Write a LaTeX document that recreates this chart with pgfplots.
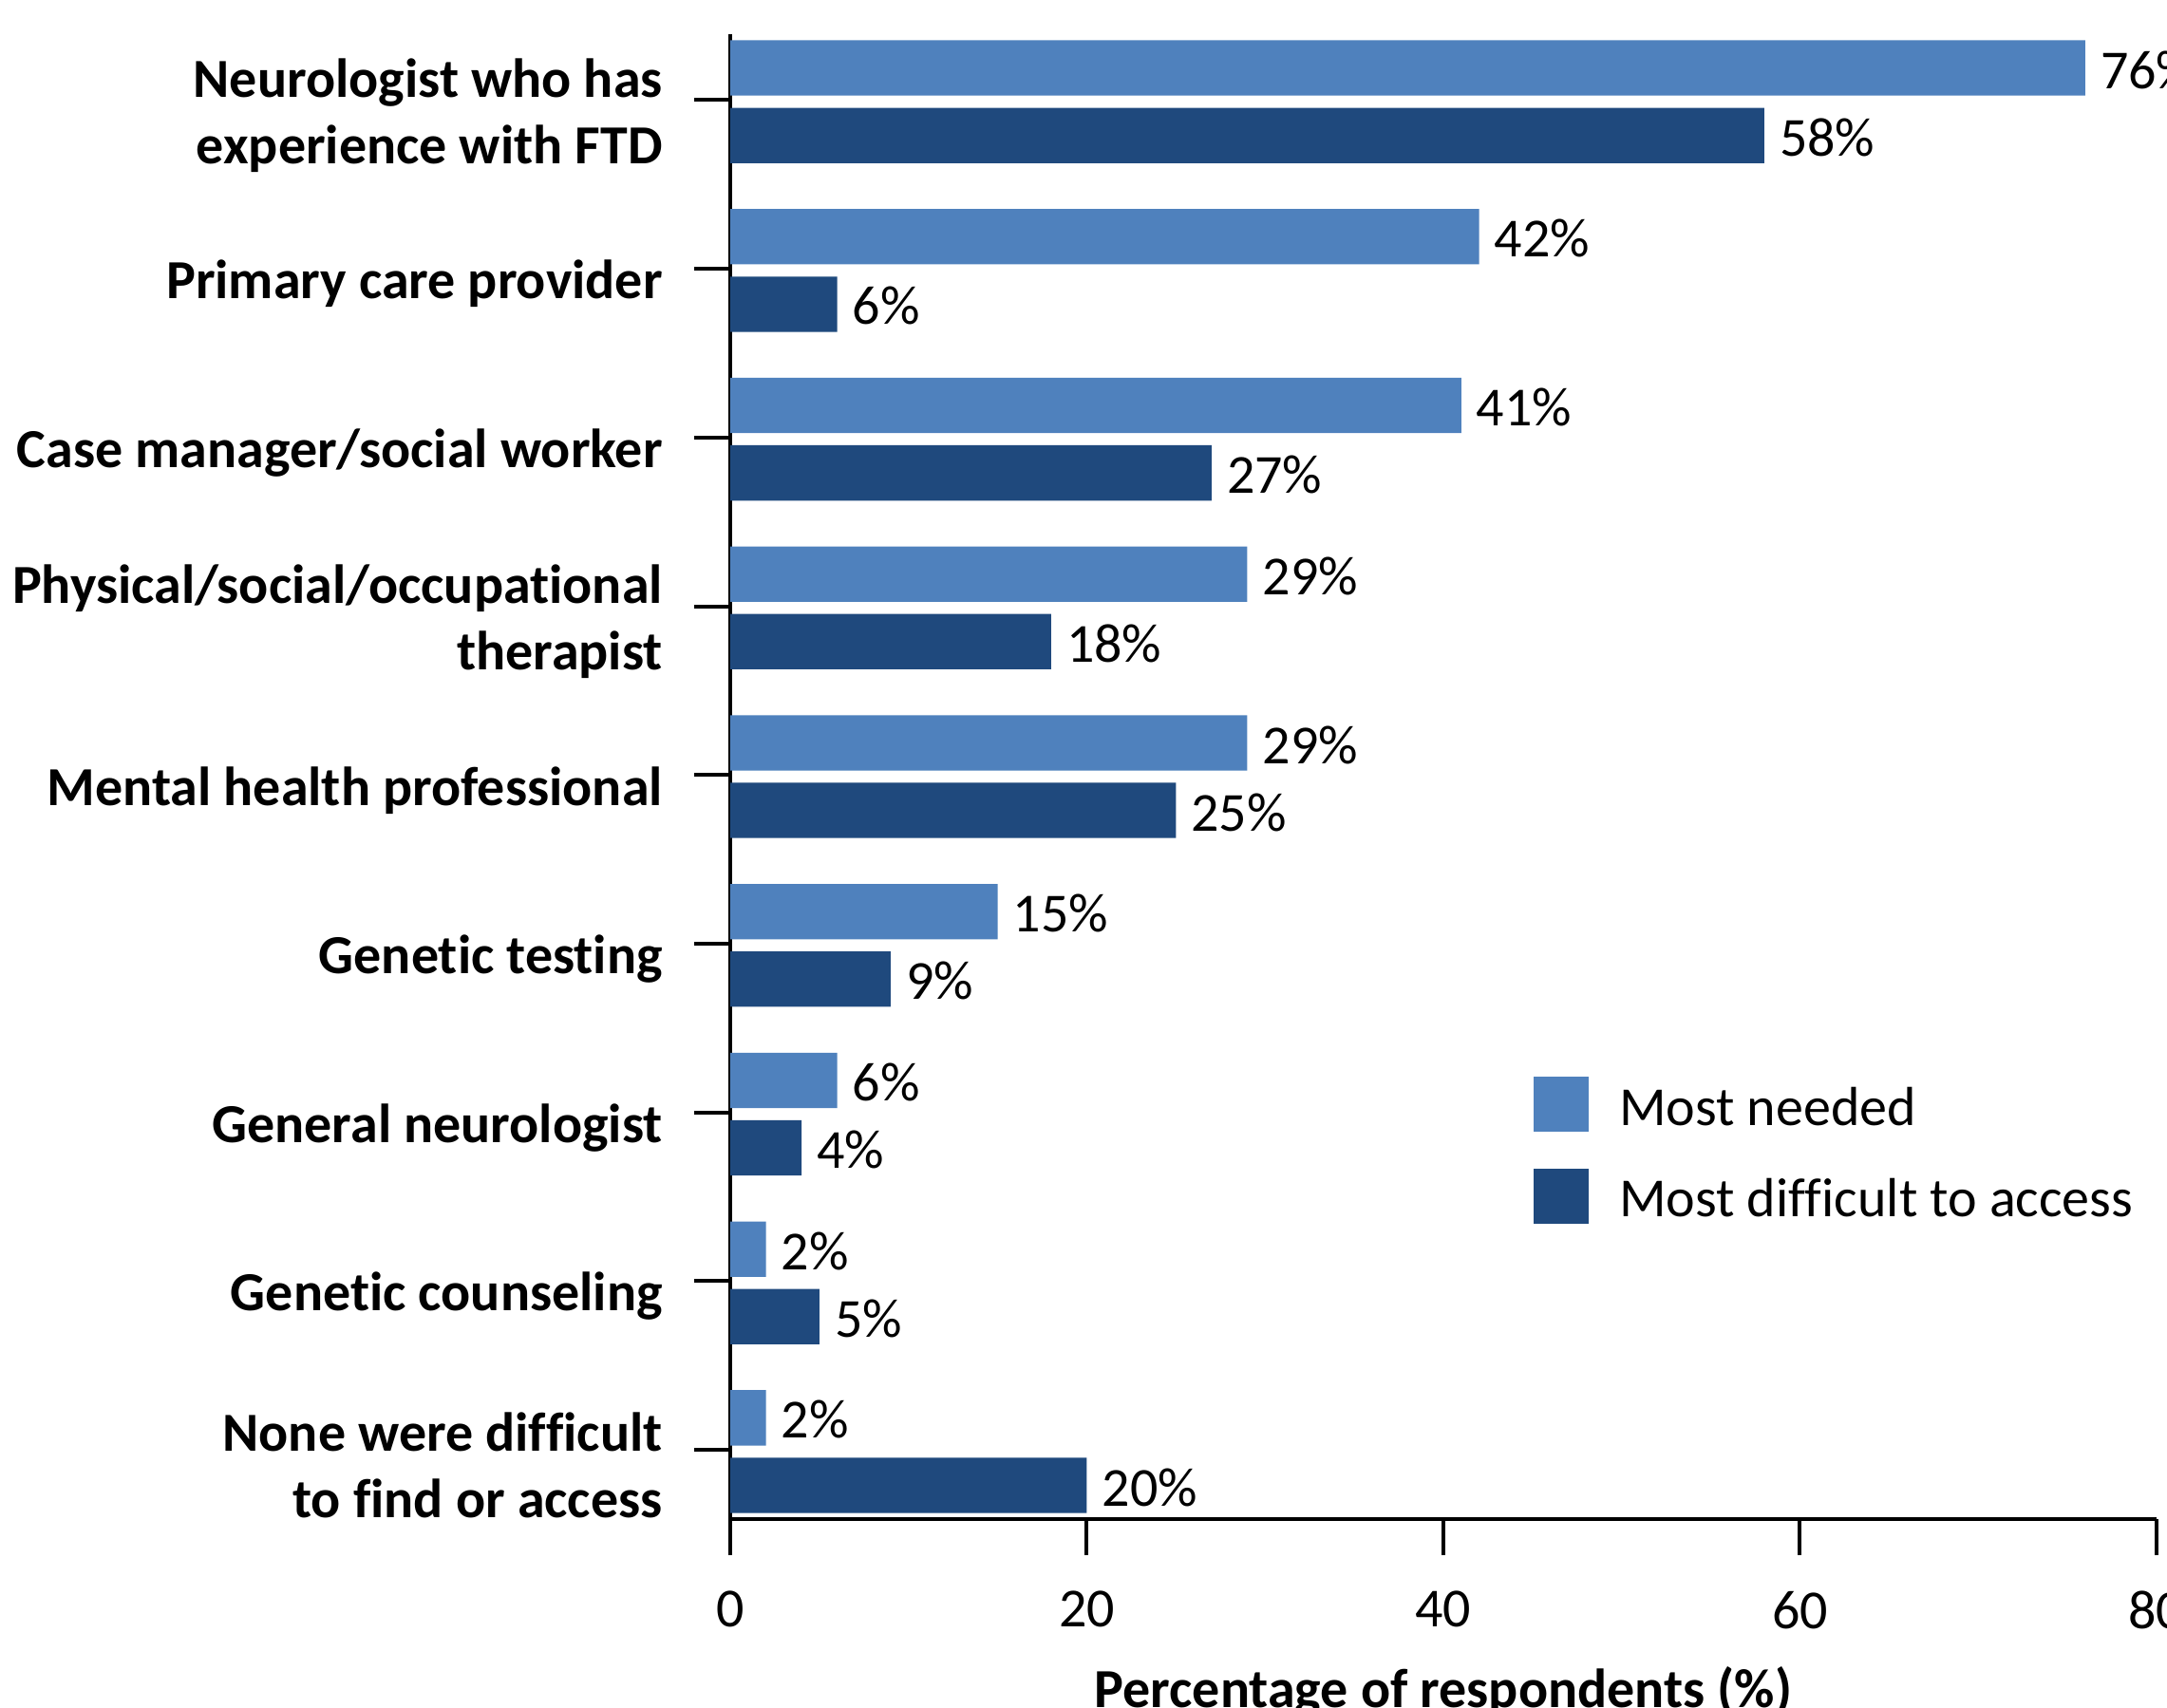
\documentclass[border=0pt]{standalone}
\usepackage{fontspec}
\setmainfont{Carlito}[Ligatures=NoCommon]
\usepackage{pgfplots}
\pgfplotsset{compat=1.18}
\definecolor{lightbar}{RGB}{79,129,189}
\definecolor{darkbar}{RGB}{31,73,125}
\pgfplotsset{/pgf/number format/assume math mode=true}
\begin{document}
\fontsize{14.5}{17.5}\selectfont
\begin{tikzpicture}
\useasboundingbox (0,0) rectangle (570.5pt,449.75pt);
\clip (0,0) rectangle (570.5pt,449.75pt);
\begin{axis}[
  at={(192.25pt,49.75pt)}, anchor=south west,
  scale only axis, width=375.5pt, height=391pt,
  xbar, clip=false,
  xmin=0, xmax=80, ymin=-0.39, ymax=8.41, y dir=reverse,
  axis x line*=bottom, axis y line*=left,
  axis line style={line width=1.1pt, black},
  tick align=outside, major tick length=9.5pt,
  tick style={black, line width=1pt},
  xtick={0,20,40,60,80},
  ytick={0,1,2,3,4,5,6,7,8},
  yticklabels={{Neurologist who has\\experience with FTD},{Primary care provider},{Case manager/social worker},{Physical/social/occupational\\therapist},{Mental health professional},{Genetic testing},{General neurologist},{Genetic counseling},{None were difficult\\to find or access}},
  yticklabel style={font=\bfseries, align=right, xshift=-3.3pt, yshift=-4pt},
  xticklabel style={yshift=-4.5pt},
  xlabel={\bfseries Percentage of respondents (\%)},
  point meta=x,
  nodes near coords={\pgfmathprintnumber{\pgfplotspointmeta}\%},
  nodes near coords style={anchor=west, xshift=-1pt, yshift=-0.5pt},
  legend style={draw=none, fill=none, at={(axis cs:45.07,5.79)}, anchor=north west,
    inner sep=0pt, outer sep=0pt, nodes={inner sep=0pt}, row sep=9.25pt, column sep=8pt},
  legend cell align=left,
  legend image code/.code={\path[#1,draw=none] (0pt,-5.75pt) rectangle (14.5pt,8.75pt);},
]
\addplot[fill=lightbar, draw=none, bar width=0.328, bar shift=-0.19] coordinates {(76,0) (42,1) (41,2) (29,3) (29,4) (15,5) (6,6) (2,7) (2,8)};
\addplot[fill=darkbar, draw=none, bar width=0.328, bar shift=0.21] coordinates {(58,0) (6,1) (27,2) (18,3) (25,4) (9,5) (4,6) (5,7) (20,8)};
\legend{Most needed, Most difficult to access}
\end{axis}
\end{tikzpicture}
\end{document}
